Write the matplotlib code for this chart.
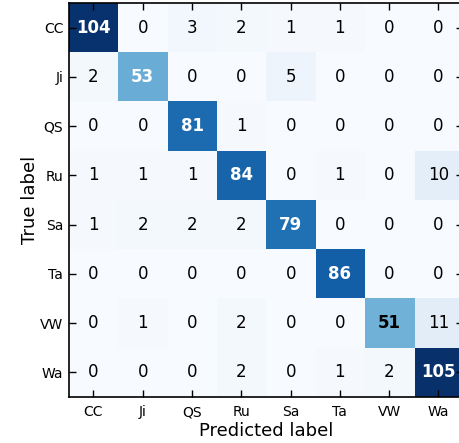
import numpy as np
import matplotlib.pyplot as plt

# class names
classes = ["CC", "Ji", "QS", "Ru", "Sa", "Ta", "VW", "Wa"]

# confusion matrix rows (true label)
row_cc = [104, 0, 3, 2, 1, 1, 0, 0]
row_ji = [2, 53, 0, 0, 5, 0, 0, 0]
row_qs = [0, 0, 81, 1, 0, 0, 0, 0]
row_ru = [1, 1, 1, 84, 0, 1, 0, 10]
row_sa = [1, 2, 2, 2, 79, 0, 0, 0]
row_ta = [0, 0, 0, 0, 0, 86, 0, 0]
row_vw = [0, 1, 0, 2, 0, 0, 51, 11]
row_wa = [0, 0, 0, 2, 0, 1, 2, 105]

cm = np.array([row_cc, row_ji, row_qs, row_ru, row_sa, row_ta, row_vw, row_wa])

fig = plt.figure(figsize=(4.59, 4.43), dpi=100)
ax = fig.add_axes([0.150, 0.104, 0.859, 0.889])
ax.imshow(cm, interpolation="nearest", cmap=plt.cm.Blues, aspect="auto")

thresh = cm.max() / 2.0
for i in range(cm.shape[0]):
    for j in range(cm.shape[1]):
        ax.text(j, i, str(cm[i, j]), ha="center", va="center", fontsize=12,
                color="white" if cm[i, j] > thresh else "black",
                fontweight="bold" if i == j else "normal")

ax.set_xticks(np.arange(len(classes)))
ax.set_yticks(np.arange(len(classes)))
ax.set_xticklabels(classes)
ax.set_yticklabels(classes)
ax.tick_params(direction="in", length=5, width=1, labelsize=10,
               top=True, right=True)
ax.tick_params(axis="x", pad=6)
ax.tick_params(axis="y", pad=4)
for s in ax.spines.values():
    s.set_linewidth(1.2)

ax.set_xlabel("Predicted label", fontsize=13, labelpad=2)
ax.set_ylabel("True label", fontsize=13, labelpad=1)

plt.savefig("out.png", dpi=100)
